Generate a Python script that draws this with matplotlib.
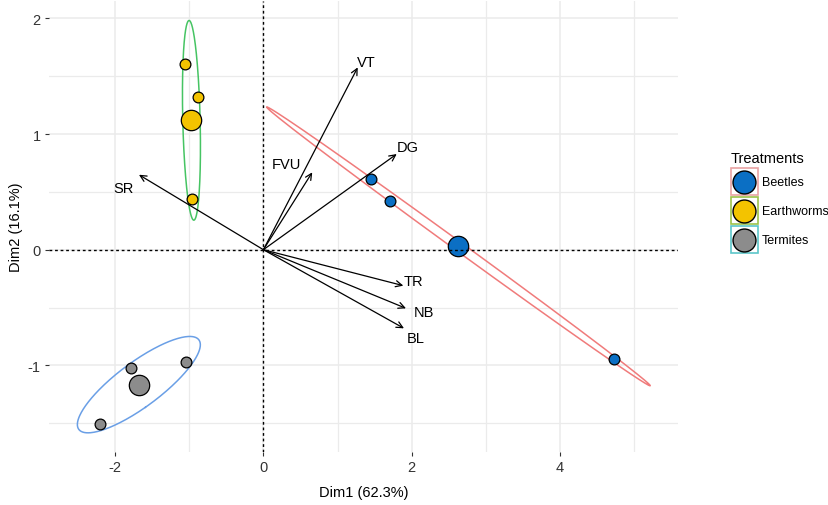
import numpy as np
import matplotlib
matplotlib.use("Agg")
import matplotlib.pyplot as plt
from matplotlib.patches import Rectangle
from matplotlib.lines import Line2D

plt.rcParams['font.family'] = ['Liberation Sans', 'DejaVu Sans']
plt.rcParams['axes.unicode_minus'] = False

# individuals (PCA scores) per treatment
groups = ["Beetles", "Earthworms", "Termites"]
beetles_x = [1.451, 1.711, 4.728]
beetles_y = [0.611, 0.421, -0.945]
earthworms_x = [-1.057, -0.886, -0.967]
earthworms_y = [1.602, 1.317, 0.436]
termites_x = [-1.790, -1.048, -2.200]
termites_y = [-1.025, -0.971, -1.504]

fill_colors = ["#0b6fc4", "#f3c300", "#8c8c8c"]
ellipse_colors = ["#f07b7b", "#46c463", "#6a9fe6"]
key_colors = ["#e9a3a3", "#9dc24a", "#5cc6c9"]

# variables (arrows)
var_names = ["VT", "DG", "FVU", "SR", "TR", "NB", "BL"]
var_x = [1.272, 1.798, 0.659, -1.678, 1.887, 1.923, 1.896]
var_y = [1.576, 0.827, 0.669, 0.648, -0.311, -0.507, -0.680]
# label offsets in points from arrow tip
lab_dx = [6.5, 8.0, -18.5, -11.0, 7.0, 13.0, 8.5]
lab_dy = [3.6, 5.0, 5.8, -9.8, 3.6, -2.5, -7.0]

xlab = "Dim1 (62.3%)"
ylab = "Dim2 (16.1%)"

fig = plt.figure(figsize=(8.29, 5.06), dpi=100)
ax = fig.add_axes([49 / 829, 1 - 453 / 506, (677.7 - 49) / 829, (453 - 2) / 506])

# grid like theme_minimal
ax.set_xticks([-2, 0, 2, 4])
ax.set_yticks([-1, 0, 1, 2])
ax.set_xticks([-1, 1, 3, 5], minor=True)
ax.set_yticks([-1.5, -0.5, 0.5, 1.5], minor=True)
ax.set_xlim(-2.891, 5.587)
ax.set_ylim(-1.749, 2.15)
ax.grid(which="major", color="#ebebeb", lw=1.1)
ax.grid(which="minor", color="#ebebeb", lw=0.9)
ax.set_axisbelow(True)
for s in ax.spines.values():
    s.set_visible(False)
ax.tick_params(which="major", length=3, width=0.8, color="#333333",
               labelsize=10.5, labelcolor="#333333", pad=3)
ax.tick_params(which="minor", length=0)

ax.set_xlabel(xlab, fontsize=10.5, labelpad=8)
ax.set_ylabel(ylab, fontsize=10.5, labelpad=3)

xs = [beetles_x, earthworms_x, termites_x]
ys = [beetles_y, earthworms_y, termites_y]

t = np.linspace(0, 2 * np.pi, 300)
r = 1.42
for gx, gy, fc, ec in zip(xs, ys, fill_colors, ellipse_colors):
    pts = np.column_stack([gx, gy])
    m = pts.mean(axis=0)
    cov = np.cov(pts.T)
    vals, vecs = np.linalg.eigh(cov)
    vals = np.clip(vals, 0, None)
    circ = np.vstack([np.cos(t), np.sin(t)])
    ell = vecs @ (np.sqrt(vals)[:, None] * circ) * r
    ax.plot(m[0] + ell[0], m[1] + ell[1], color=ec, lw=1.1, zorder=2)
    ax.scatter(gx, gy, s=60, c=fc, edgecolors="black", linewidths=0.9, zorder=3)
    ax.scatter([m[0]], [m[1]], s=215, c=fc, edgecolors="black", linewidths=0.9, zorder=3)

# dotted reference lines
ax.axhline(0, color="black", lw=1.0, ls=(0, (2, 2)), zorder=4)
ax.axvline(0, color="black", lw=1.0, ls=(0, (2, 2)), zorder=4)

for name, vx, vy, dx, dy in zip(var_names, var_x, var_y, lab_dx, lab_dy):
    ax.annotate("", xy=(vx, vy), xytext=(0, 0),
                arrowprops=dict(arrowstyle="->,head_length=0.45,head_width=0.22",
                                color="black", lw=0.9, shrinkA=0, shrinkB=0),
                zorder=5)
    ax.annotate(name, xy=(vx, vy), xytext=(dx, dy), textcoords="offset points",
                ha="center", va="center", fontsize=10.5, zorder=6)

# legend
fig.text(731 / 829, 1 - 159 / 506, "Treatments", fontsize=10.5, va="center", ha="left")
key_tops = [169, 198, 227]
for name, top, fc, kc in zip(groups, key_tops, fill_colors, key_colors):
    fig.patches.append(Rectangle((731 / 829, 1 - (top + 27) / 506), 27 / 829, 27 / 506,
                                 transform=fig.transFigure, fill=False,
                                 edgecolor=kc, lw=1.2))
    fig.lines.append(Line2D([744.5 / 829], [1 - (top + 13.5) / 506], transform=fig.transFigure,
                            marker="o", markersize=16.5, markerfacecolor=fc,
                            markeredgecolor="black", markeredgewidth=1.0, ls="none"))
    fig.text(762 / 829, 1 - (top + 14) / 506, name, fontsize=9, va="center", ha="left")

fig.savefig("out.png", dpi=100)
